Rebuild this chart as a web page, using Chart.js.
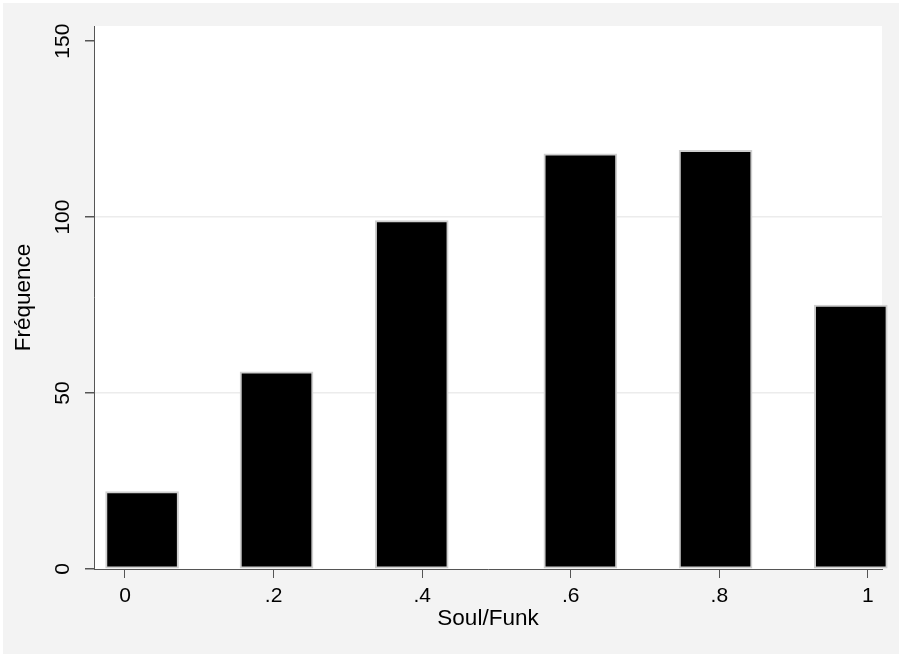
<!DOCTYPE html>
<html>
<head>
<meta charset="utf-8">
<script src="https://cdn.jsdelivr.net/npm/chart.js@4/dist/chart.umd.min.js"></script>
<style>
  body { margin: 0; background: #fff; }
  canvas { display: block; }
</style>
</head>
<body>
<canvas id="histChart" width="902" height="657"></canvas>
<script>
// bar centres (Soul/Funk score) and their counts
const binCenters = [0.023, 0.204, 0.386, 0.613, 0.795, 0.977];
const frequencies = [22, 56, 99, 118, 119, 75];
const xTicks = [0, 0.2, 0.4, 0.6, 0.8, 1];
const xTickLabels = ["0", ".2", ".4", ".6", ".8", "1"];
const yTicks = [0, 50, 100, 150];

const FONT = "'Liberation Sans', Arial, sans-serif";

// grey page with a thin white rim, white plot region
const backdrop = {
  id: "backdrop",
  beforeDraw(chart) {
    const { ctx, width, height, chartArea } = chart;
    ctx.save();
    ctx.fillStyle = "#ffffff";
    ctx.fillRect(0, 0, width, height);
    ctx.fillStyle = "#f3f3f3";
    ctx.fillRect(3, 3, width - 6, height - 6);
    ctx.fillStyle = "#ffffff";
    ctx.fillRect(chartArea.left, chartArea.top, chartArea.right - chartArea.left, chartArea.bottom - chartArea.top);
    ctx.restore();
  },
};

const ctx = document.getElementById("histChart").getContext("2d");
const chart = new Chart(ctx, {
  type: "bar",
  data: {
    datasets: [
      {
        data: binCenters.map((c, i) => ({ x: c, y: frequencies[i] })),
        backgroundColor: "#000000",
        borderColor: "#cfcfcf",
        borderWidth: 2,
        borderSkipped: false,
        barThickness: 73,
        clip: false,
      },
    ],
  },
  options: {
    responsive: false,
    animation: false,
    layout: { padding: { top: 26, right: 20, bottom: 0, left: 0 } },
    plugins: { legend: { display: false }, tooltip: { enabled: false } },
    scales: {
      x: {
        type: "linear",
        min: -0.0417,
        max: 1.019,
        offset: false,
        afterFit: (scale) => { scale.height = 88; },
        afterBuildTicks: (scale) => { scale.ticks = xTicks.map((v) => ({ value: v })); },
        grid: { offset: false, drawOnChartArea: false, tickLength: 9, tickColor: "#555555", tickWidth: 1 },
        border: { color: "#555555", width: 1 },
        ticks: {
          color: "#000000",
          padding: 6,
          maxRotation: 0,
          font: { family: FONT, size: 21 },
          callback: (v, i) => xTickLabels[i],
        },
        title: {
          display: true,
          text: "Soul/Funk",
          color: "#000000",
          font: { family: FONT, size: 22.5 },
          padding: { top: 0, bottom: 25 },
        },
      },
      y: {
        min: 0,
        max: 154.3,
        afterFit: (scale) => { scale.width = 94; },
        afterBuildTicks: (scale) => { scale.ticks = yTicks.map((v) => ({ value: v })); },
        grid: {
          tickLength: 9,
          tickColor: "#555555",
          color: (c) => (c.tick && (c.tick.value === 50 || c.tick.value === 100) ? "#ececec" : "rgba(0,0,0,0)"),
          lineWidth: 1.5,
        },
        border: { color: "#555555", width: 1 },
        ticks: {
          color: "#000000",
          padding: 4,
          minRotation: 90,
          maxRotation: 90,
          crossAlign: "center",
          font: { family: FONT, size: 21 },
        },
        title: {
          display: true,
          text: "Fréquence",
          color: "#000000",
          font: { family: FONT, size: 22.5 },
          padding: { top: 10, bottom: 0 },
        },
      },
    },
  },
  plugins: [backdrop],
});
</script>
</body>
</html>
